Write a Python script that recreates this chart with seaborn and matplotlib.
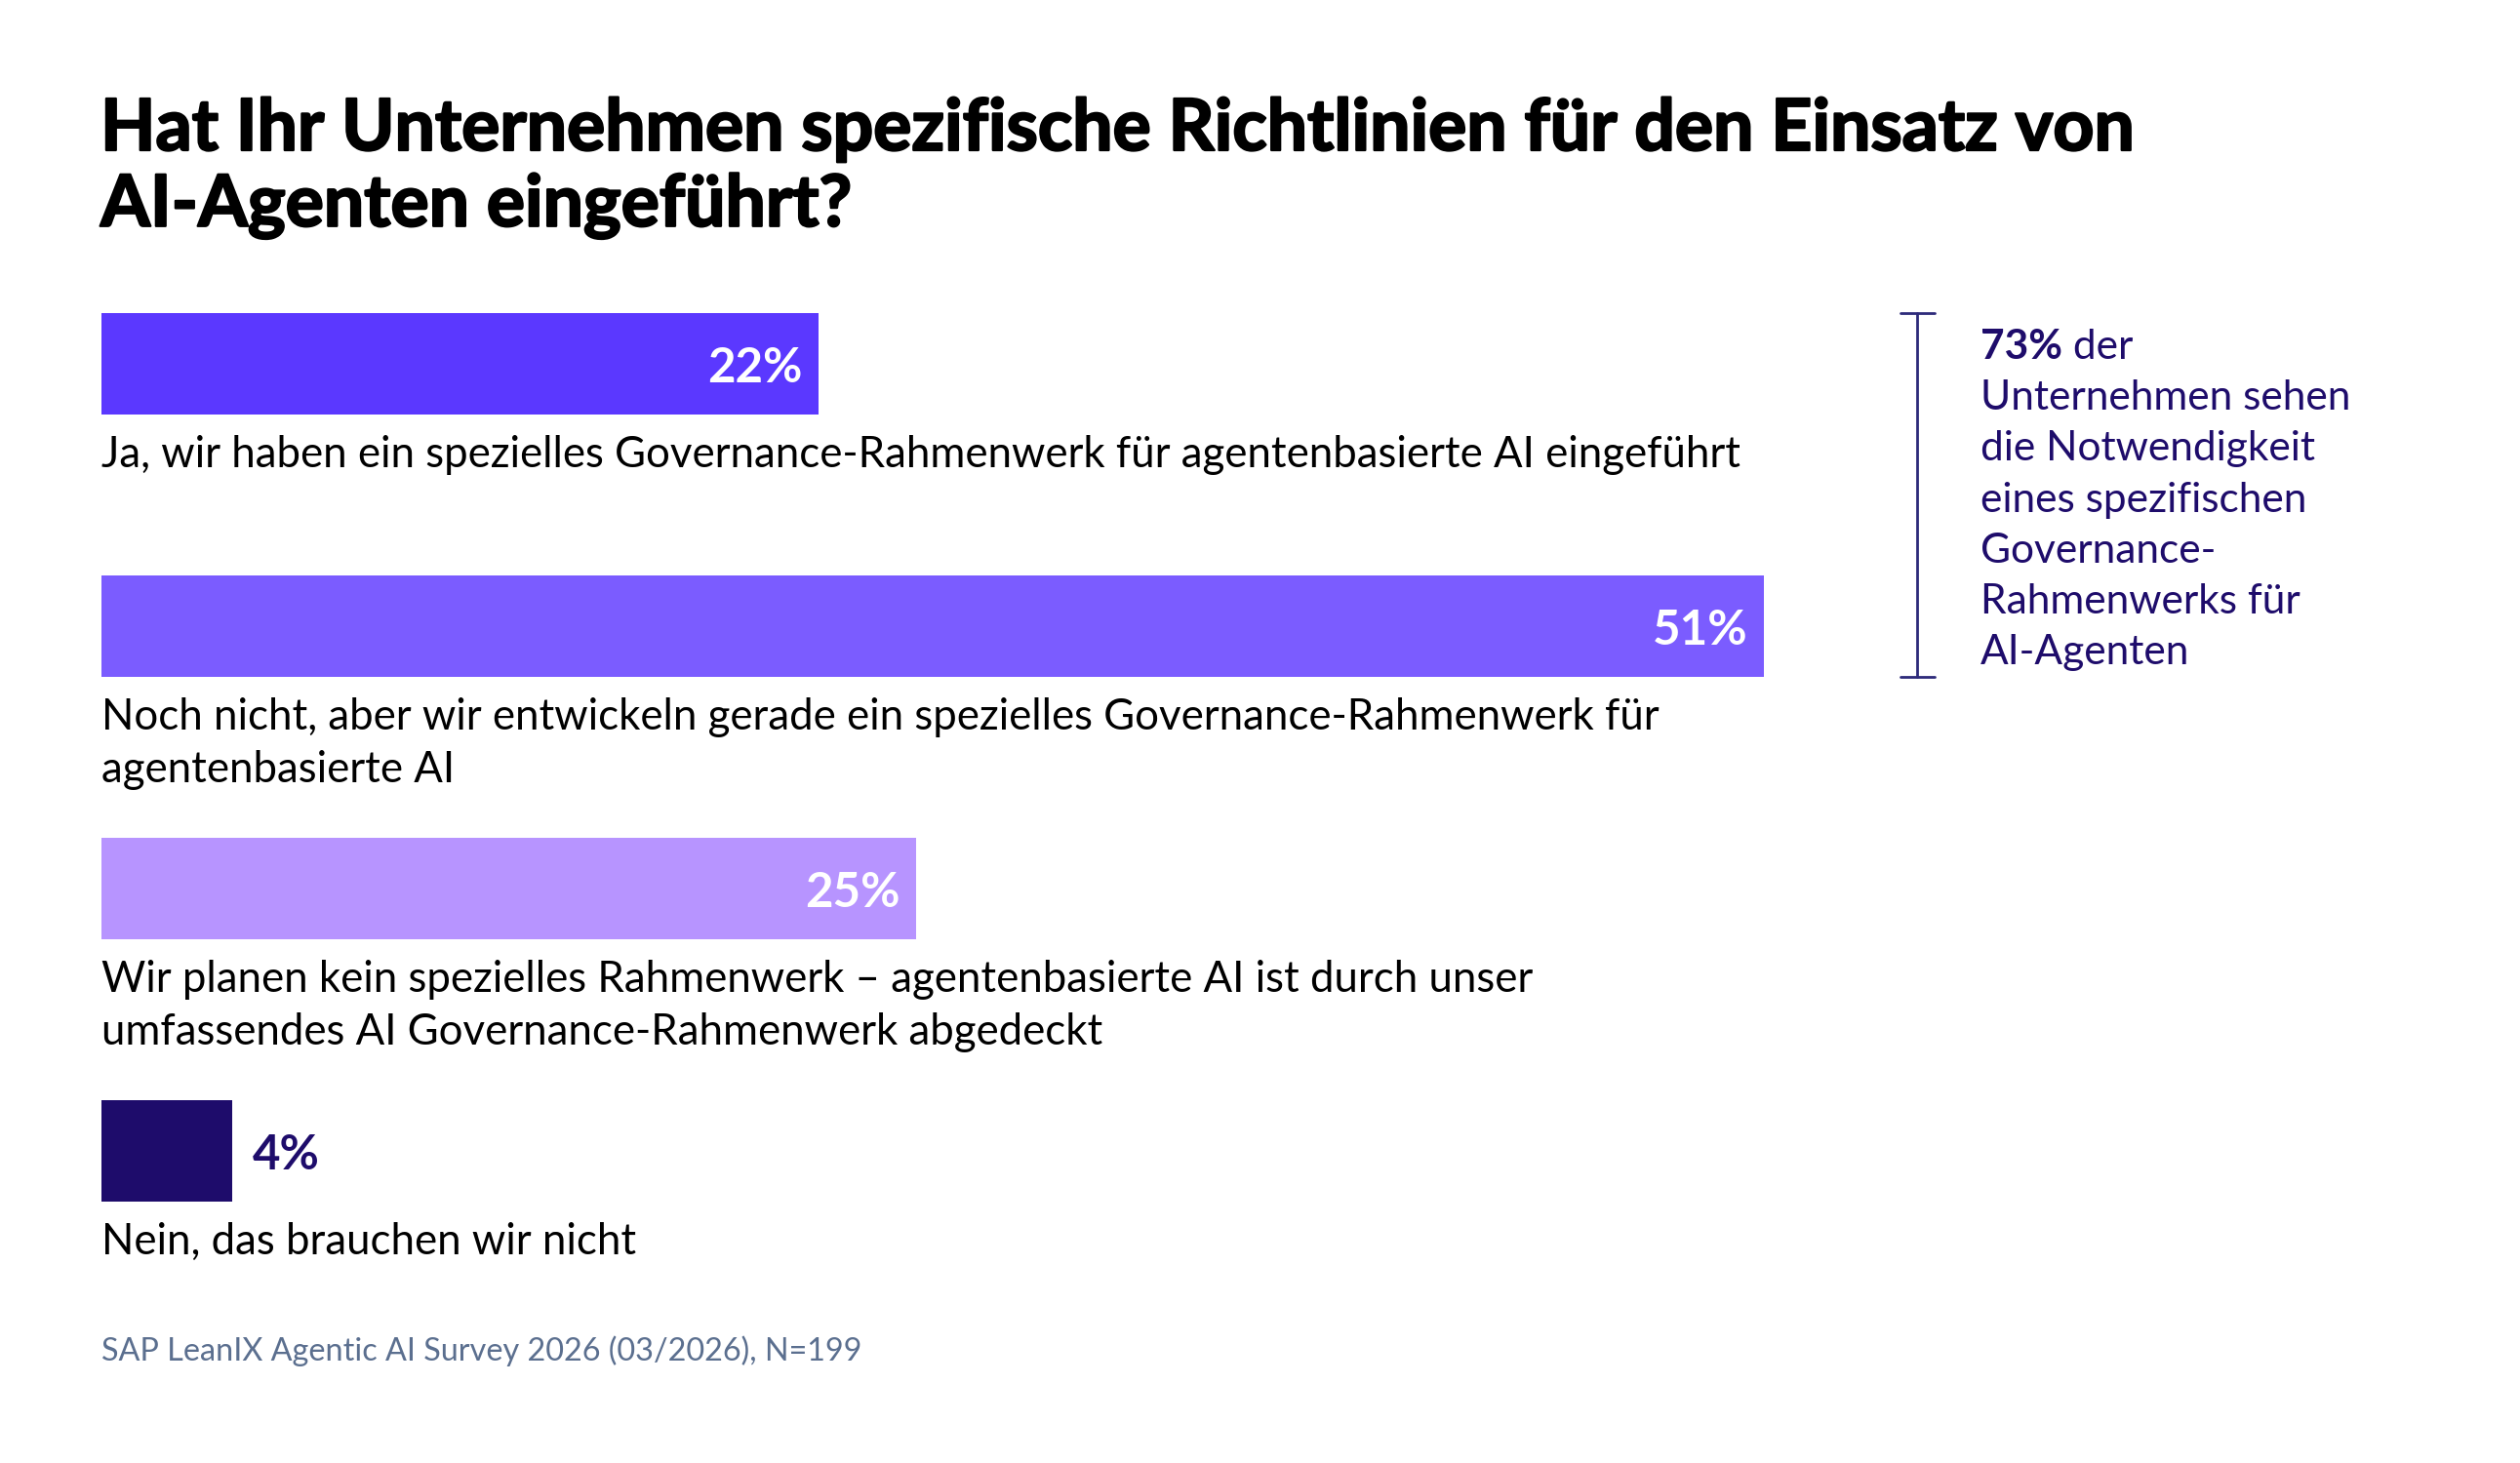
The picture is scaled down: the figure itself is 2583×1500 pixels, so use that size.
import pandas as pd
import seaborn as sns
import matplotlib.pyplot as plt
import matplotlib.patheffects as pe

# Survey answers (labels wrapped like in the original)
antworten = [
    "Ja, wir haben ein spezielles Governance-Rahmenwerk für agentenbasierte AI eingeführt",
    "Noch nicht, aber wir entwickeln gerade ein spezielles Governance-Rahmenwerk für\nagentenbasierte AI",
    "Wir planen kein spezielles Rahmenwerk – agentenbasierte AI ist durch unser\numfassendes AI Governance-Rahmenwerk abgedeckt",
    "Nein, das brauchen wir nicht",
]
anteile = [22, 51, 25, 4]
farben = ["#5b38ff", "#7b5cff", "#b794ff", "#1e0c6b"]

titel = "Hat Ihr Unternehmen spezifische Richtlinien für den Einsatz von\nAI-Agenten eingeführt?"
hinweis_zahl = "73%"
hinweis_rest = "Unternehmen sehen\ndie Notwendigkeit\neines spezifischen\nGovernance-\nRahmenwerks für\nAI-Agenten"
quelle = "SAP LeanIX Agentic AI Survey 2026 (03/2026), N=199"

df = pd.DataFrame({"antwort": antworten, "anteil": anteile})

sns.set_theme(style="white")
plt.rcParams["font.family"] = ["Lato", "DejaVu Sans"]

W, H = 2583, 1500
fig = plt.figure(figsize=(W / 100, H / 100), dpi=100)
fig.patch.set_facecolor("white")


def fx(x):
    return x / W


def fy(y):
    return 1 - y / H


# axes: bars from x=104px (0%) to 1808px (51%), row pitch 269px
ax = fig.add_axes([fx(104), fy(1314.5), 1704 / W, 1076 / H])
sns.barplot(data=df, x="anteil", y="antwort", hue="antwort", palette=farben,
            orient="h", width=0.3866, saturation=1, linewidth=0,
            legend=False, ax=ax)
ax.set_xlim(0, 51)
ax.set_ylim(3.5, -0.5)
ax.axis("off")

navy = "#1e0c6b"
for i, (txt, v) in enumerate(zip(antworten, anteile)):
    # answer text under the bar
    ax.text(0, i + 0.272, txt, ha="left", va="top", fontsize=31.5,
            color="#000000", linespacing=1.38)
    if v >= 10:
        ax.annotate(f"{v}%", xy=(v, i), xytext=(-12, -3), textcoords="offset points",
                    ha="right", va="center", fontsize=35.5, fontweight="bold",
                    color="white")
    else:
        ax.annotate(f"{v}%", xy=(v, i), xytext=(15, -3), textcoords="offset points",
                    ha="left", va="center", fontsize=35.5, fontweight="bold",
                    color=navy)

# bracket for the first two answers
bx = (1965 - 104) / 1704 * 51
cap = 17.5 / 1704 * 51
top, bot = -0.3866 / 2, 1 + 0.3866 / 2
br = dict(color="#2d2a7a", lw=2, clip_on=False)
ax.plot([bx, bx], [top, bot], **br)
ax.plot([bx - cap, bx + cap], [top, top], **br)
ax.plot([bx - cap, bx + cap], [bot, bot], **br)

t73 = fig.text(fx(2030), fy(368), hinweis_zahl, ha="left", va="baseline",
               fontsize=30.5, fontweight="bold", color=navy)
ax.annotate(" der", xy=(1, 0), xycoords=t73, ha="left", va="bottom",
            fontsize=30.5, color=navy)
fig.text(fx(2030), fy(389), hinweis_rest, ha="left", va="top", fontsize=30.5,
         color=navy, linespacing=1.46)

fig.text(fx(103), fy(100), titel, ha="left", va="top", fontsize=52.8,
         fontweight="bold", color="#000000", linespacing=1.2,
         path_effects=[pe.withStroke(linewidth=1.6, foreground="#000000")])

fig.text(fx(104), fy(1395), quelle, ha="left", va="baseline", fontsize=23.3,
         color="#5b6f8f")

fig.savefig("out.png", dpi=100, facecolor="white")
